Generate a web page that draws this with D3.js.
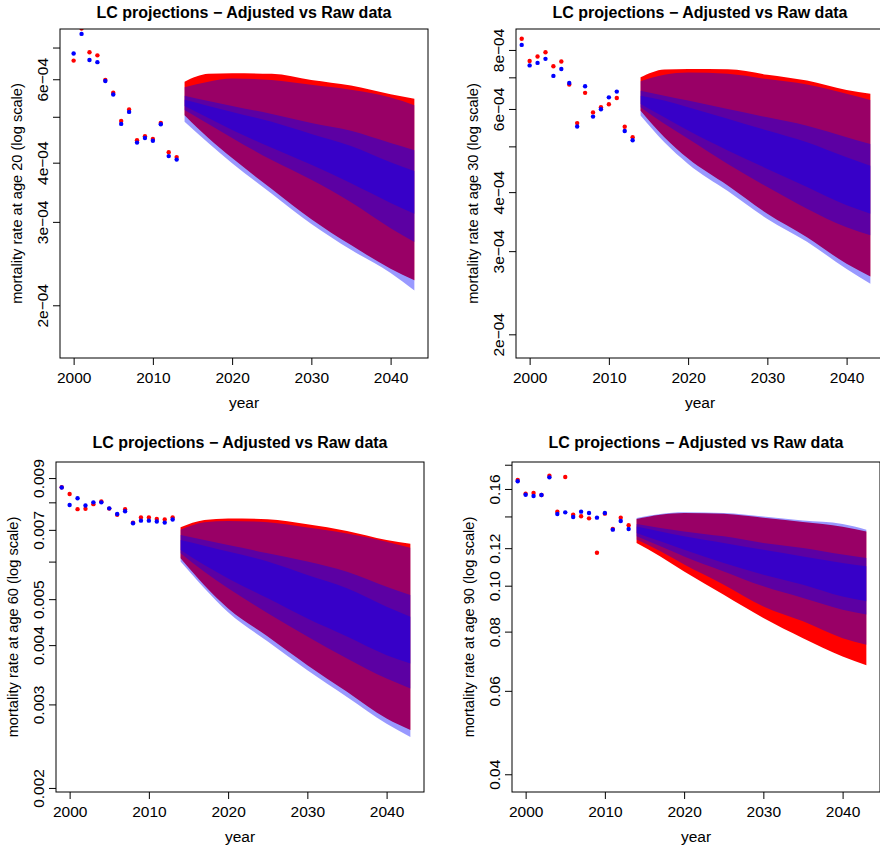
<!DOCTYPE html>
<html>
<head>
<meta charset="utf-8">
<script src="https://cdn.jsdelivr.net/npm/d3@7"></script>
<style>
body { margin: 0; background: #fff; }
svg { display: block; }
text { font-family: "Liberation Sans", Arial, Helvetica, sans-serif; fill: #000; }
</style>
</head>
<body>
<svg width="880" height="852"></svg>
<script>
// shared x settings
const xLim = [1998.28, 2044.72];
const xTicks = [2000, 2010, 2020, 2030, 2040];
const fanYears = [2014, 2017, 2020, 2025, 2030, 2035, 2040, 2043];

// ---- age 20 ----
const age20Years = [2000, 2001, 2002, 2003, 2004, 2005, 2006, 2007, 2008, 2009, 2010, 2011, 2012, 2013];
const age20Raw = [6.57e-4, 7.68e-4, 6.84e-4, 6.74e-4, 5.98e-4, 5.62e-4, 4.90e-4, 5.18e-4, 4.46e-4, 4.55e-4, 4.49e-4, 4.85e-4, 4.21e-4, 4.11e-4];
const age20Adj = [6.80e-4, 7.48e-4, 6.59e-4, 6.52e-4, 5.95e-4, 5.57e-4, 4.83e-4, 5.12e-4, 4.41e-4, 4.51e-4, 4.45e-4, 4.82e-4, 4.13e-4, 4.06e-4];
const age20RawUpper = [5.93e-4, 6.16e-4, 6.18e-4, 6.16e-4, 5.98e-4, 5.82e-4, 5.58e-4, 5.46e-4];
const age20RawLower = [5.04e-4, 4.51e-4, 4.09e-4, 3.52e-4, 3.04e-4, 2.68e-4, 2.39e-4, 2.26e-4];
const age20AdjUpper95 = [5.77e-4, 5.93e-4, 6.02e-4, 5.98e-4, 5.84e-4, 5.70e-4, 5.49e-4, 5.29e-4];
const age20AdjLower95 = [4.88e-4, 4.40e-4, 3.99e-4, 3.44e-4, 2.97e-4, 2.62e-4, 2.34e-4, 2.15e-4];
const age20AdjUpper80 = [5.54e-4, 5.40e-4, 5.27e-4, 5.07e-4, 4.85e-4, 4.67e-4, 4.40e-4, 4.25e-4];
const age20AdjLower80 = [5.17e-4, 4.83e-4, 4.51e-4, 4.05e-4, 3.68e-4, 3.30e-4, 2.91e-4, 2.72e-4];
const age20AdjUpper50 = [5.43e-4, 5.27e-4, 5.12e-4, 4.88e-4, 4.60e-4, 4.34e-4, 4.01e-4, 3.84e-4];
const age20AdjLower50 = [5.27e-4, 4.97e-4, 4.69e-4, 4.30e-4, 3.96e-4, 3.62e-4, 3.29e-4, 3.12e-4];
const age20YLim = [1.548e-4, 7.66e-4];
const age20Ticks = [2e-4, 3e-4, 4e-4, 5e-4, 6e-4, 7e-4];
const age20TickLabels = ["2e\u221204", "3e\u221204", "4e\u221204", "", "6e\u221204", ""];

// ---- age 30 ----
const age30Years = [1999, 2000, 2001, 2002, 2003, 2004, 2005, 2006, 2007, 2008, 2009, 2010, 2011, 2012, 2013];
const age30Raw = [8.45e-4, 7.58e-4, 7.75e-4, 7.91e-4, 7.39e-4, 7.56e-4, 6.76e-4, 5.60e-4, 6.49e-4, 5.90e-4, 6.05e-4, 6.14e-4, 6.33e-4, 5.50e-4, 5.23e-4];
const age30Adj = [8.20e-4, 7.42e-4, 7.51e-4, 7.66e-4, 7.05e-4, 7.29e-4, 6.81e-4, 5.51e-4, 6.70e-4, 5.78e-4, 5.99e-4, 6.35e-4, 6.53e-4, 5.39e-4, 5.15e-4];
const age30RawUpper = [7.00e-4, 7.27e-4, 7.29e-4, 7.28e-4, 7.09e-4, 6.89e-4, 6.58e-4, 6.46e-4];
const age30RawLower = [5.95e-4, 5.23e-4, 4.71e-4, 4.13e-4, 3.60e-4, 3.21e-4, 2.82e-4, 2.65e-4];
const age30AdjUpper95 = [6.87e-4, 7.09e-4, 7.17e-4, 7.12e-4, 6.94e-4, 6.76e-4, 6.46e-4, 6.27e-4];
const age30AdjLower95 = [5.81e-4, 5.10e-4, 4.59e-4, 4.02e-4, 3.51e-4, 3.14e-4, 2.75e-4, 2.56e-4];
const age30AdjUpper80 = [6.56e-4, 6.40e-4, 6.25e-4, 6.00e-4, 5.76e-4, 5.53e-4, 5.23e-4, 5.06e-4];
const age30AdjLower80 = [6.05e-4, 5.58e-4, 5.19e-4, 4.59e-4, 4.10e-4, 3.69e-4, 3.37e-4, 3.24e-4];
const age30AdjUpper50 = [6.40e-4, 6.25e-4, 6.05e-4, 5.72e-4, 5.40e-4, 5.10e-4, 4.74e-4, 4.55e-4];
const age30AdjLower50 = [6.15e-4, 5.76e-4, 5.40e-4, 4.90e-4, 4.48e-4, 4.10e-4, 3.75e-4, 3.60e-4];
const age30YLim = [1.782e-4, 8.86e-4];
const age30Ticks = [2e-4, 3e-4, 4e-4, 5e-4, 6e-4, 7e-4, 8e-4];
const age30TickLabels = ["2e\u221204", "3e\u221204", "4e\u221204", "", "6e\u221204", "", "8e\u221204"];

// ---- age 60 ----
const age60Years = [1999, 2000, 2001, 2002, 2003, 2004, 2005, 2006, 2007, 2008, 2009, 2010, 2011, 2012, 2013];
const age60Raw = [0.00861, 0.00833, 0.00774, 0.00775, 0.00793, 0.00803, 0.00776, 0.00753, 0.00774, 0.00725, 0.00743, 0.00743, 0.00738, 0.00736, 0.00743];
const age60Adj = [0.00860, 0.00790, 0.00816, 0.00788, 0.00800, 0.00800, 0.00777, 0.00756, 0.00766, 0.00723, 0.00732, 0.00732, 0.00729, 0.00725, 0.00736];
const age60RawUpper = [0.00709, 0.00734, 0.00740, 0.00737, 0.00719, 0.00696, 0.00666, 0.00654];
const age60RawLower = [0.00610, 0.00535, 0.00478, 0.00417, 0.00363, 0.00319, 0.00280, 0.00265];
const age60AdjUpper95 = [0.00700, 0.00726, 0.00731, 0.00726, 0.00708, 0.00688, 0.00661, 0.00642];
const age60AdjLower95 = [0.00600, 0.00527, 0.00469, 0.00407, 0.00354, 0.00311, 0.00273, 0.00256];
const age60AdjUpper80 = [0.00683, 0.00666, 0.00650, 0.00625, 0.00600, 0.00571, 0.00531, 0.00510];
const age60AdjLower80 = [0.00625, 0.00571, 0.00527, 0.00467, 0.00417, 0.00375, 0.00340, 0.00324];
const age60AdjUpper50 = [0.00666, 0.00648, 0.00630, 0.00600, 0.00562, 0.00527, 0.00482, 0.00459];
const age60AdjLower50 = [0.00635, 0.00590, 0.00553, 0.00502, 0.00455, 0.00417, 0.00381, 0.00366];
const age60YLim = [0.001961, 0.00973];
const age60Ticks = [0.002, 0.003, 0.004, 0.005, 0.006, 0.007, 0.008, 0.009];
const age60TickLabels = ["0.002", "0.003", "0.004", "0.005", "", "0.007", "", "0.009"];

// ---- age 90 ----
const age90Years = [1999, 2000, 2001, 2002, 2003, 2004, 2005, 2006, 2007, 2008, 2009, 2010, 2011, 2012, 2013];
const age90Raw = [0.1671, 0.1564, 0.1569, 0.1554, 0.1707, 0.1433, 0.1696, 0.1412, 0.1401, 0.1387, 0.1174, 0.1419, 0.1317, 0.1392, 0.1341];
const age90Adj = [0.1661, 0.1556, 0.1546, 0.1554, 0.1693, 0.1417, 0.1428, 0.1396, 0.1433, 0.1424, 0.1392, 0.1424, 0.1313, 0.1369, 0.1317];
const age90RawUpper = [0.1383, 0.1412, 0.1424, 0.1419, 0.1392, 0.1363, 0.1332, 0.1302];
const age90RawLower = [0.1231, 0.1153, 0.1072, 0.0957, 0.0855, 0.0775, 0.0709, 0.0679];
const age90AdjUpper95 = [0.1390, 0.1417, 0.1428, 0.1424, 0.1399, 0.1372, 0.1350, 0.1313];
const age90AdjLower95 = [0.1251, 0.1182, 0.1108, 0.1005, 0.0904, 0.0841, 0.0775, 0.0751];
const age90AdjUpper80 = [0.1350, 0.1324, 0.1302, 0.1271, 0.1231, 0.1201, 0.1163, 0.1144];
const age90AdjLower80 = [0.1271, 0.1211, 0.1153, 0.1072, 0.0997, 0.0942, 0.0890, 0.0869];
const age90AdjUpper50 = [0.1334, 0.1302, 0.1271, 0.1231, 0.1191, 0.1153, 0.1117, 0.1099];
const age90AdjLower50 = [0.1292, 0.1241, 0.1191, 0.1117, 0.1055, 0.1005, 0.0949, 0.0927];
const age90YLim = [0.0367, 0.1824];
const age90Ticks = [0.04, 0.06, 0.08, 0.10, 0.12, 0.14, 0.16, 0.18];
const age90TickLabels = ["0.04", "0.06", "0.08", "0.10", "0.12", "", "0.16", ""];

const panels = [
  { age: 20, years: age20Years, raw: age20Raw, adj: age20Adj, rawUpper: age20RawUpper, rawLower: age20RawLower,
    bands: [[age20AdjLower95, age20AdjUpper95], [age20AdjLower80, age20AdjUpper80], [age20AdjLower50, age20AdjUpper50]],
    yLim: age20YLim, ticks: age20Ticks, tickLabels: age20TickLabels },
  { age: 30, years: age30Years, raw: age30Raw, adj: age30Adj, rawUpper: age30RawUpper, rawLower: age30RawLower,
    bands: [[age30AdjLower95, age30AdjUpper95], [age30AdjLower80, age30AdjUpper80], [age30AdjLower50, age30AdjUpper50]],
    yLim: age30YLim, ticks: age30Ticks, tickLabels: age30TickLabels },
  { age: 60, years: age60Years, raw: age60Raw, adj: age60Adj, rawUpper: age60RawUpper, rawLower: age60RawLower,
    bands: [[age60AdjLower95, age60AdjUpper95], [age60AdjLower80, age60AdjUpper80], [age60AdjLower50, age60AdjUpper50]],
    yLim: age60YLim, ticks: age60Ticks, tickLabels: age60TickLabels },
  { age: 90, years: age90Years, raw: age90Raw, adj: age90Adj, rawUpper: age90RawUpper, rawLower: age90RawLower,
    bands: [[age90AdjLower95, age90AdjUpper95], [age90AdjLower80, age90AdjUpper80], [age90AdjLower50, age90AdjUpper50]],
    yLim: age90YLim, ticks: age90Ticks, tickLabels: age90TickLabels }
];

// plot boxes (2 x 2 layout)
const boxes = [
  { left: 60,  right: 428, top: 29,  bottom: 358, titleY: 18 },
  { left: 516, right: 884, top: 29,  bottom: 358, titleY: 18 },
  { left: 56,  right: 424, top: 462, bottom: 792, titleY: 447.5 },
  { left: 512, right: 880, top: 462, bottom: 792, titleY: 447.5 }
];

var svg = d3.select("svg");
var defs = svg.append("defs");

panels.forEach(function(p, i) { drawPanel(p, boxes[i], i); });

function drawPanel(p, b, i) {
  var x = d3.scaleLinear().domain(xLim).range([b.left, b.right]);
  var y = d3.scaleLog().domain(p.yLim).range([b.bottom, b.top]);

  defs.append("clipPath").attr("id", "clip" + i)
    .append("rect")
    .attr("x", b.left).attr("y", b.top)
    .attr("width", b.right - b.left).attr("height", b.bottom - b.top);

  var g = svg.append("g");
  var plot = g.append("g").attr("clip-path", "url(#clip" + i + ")");

  function band(lo, hi) {
    return d3.area()
      .curve(d3.curveMonotoneX)
      .x(function(d, k) { return x(fanYears[k]); })
      .y0(function(d, k) { return y(lo[k]); })
      .y1(function(d, k) { return y(hi[k]); })(fanYears);
  }

  // raw-data fan (opaque red)
  plot.append("path").attr("d", band(p.rawLower, p.rawUpper)).attr("fill", "#ff0000");
  // adjusted-data fan: nested translucent blue bands
  p.bands.forEach(function(bd) {
    plot.append("path").attr("d", band(bd[0], bd[1]))
      .attr("fill", "#0000ff").attr("fill-opacity", 0.4);
  });

  // observed rates
  plot.selectAll(".raw").data(p.years).join("circle")
    .attr("class", "raw")
    .attr("cx", function(d) { return x(d); })
    .attr("cy", function(d, k) { return y(p.raw[k]); })
    .attr("r", 2.2)
    .attr("fill", "#ff0000");
  plot.selectAll(".adj").data(p.years).join("circle")
    .attr("class", "adj")
    .attr("cx", function(d) { return x(d); })
    .attr("cy", function(d, k) { return y(p.adj[k]); })
    .attr("r", 2.2)
    .attr("fill", "#0000ff");

  // axes
  var xAxis = g.append("g").attr("transform", "translate(0," + b.bottom + ")")
    .call(d3.axisBottom(x).tickValues(xTicks).tickSize(7).tickSizeOuter(0).tickFormat(d3.format("d")));
  xAxis.select(".domain").remove();
  xAxis.selectAll("text").attr("y", 25).attr("dy", null)
    .style("font-size", "15.5px").style("font-family", null);

  var yAxis = g.append("g").attr("transform", "translate(" + b.left + ",0)")
    .call(d3.axisLeft(y).tickValues(p.ticks).tickSize(7).tickSizeOuter(0)
      .tickFormat(function(d, k) { return p.tickLabels[k]; }));
  yAxis.select(".domain").remove();
  yAxis.selectAll("text")
    .attr("transform", "rotate(-90)")
    .attr("x", 0).attr("y", -12).attr("dy", null)
    .style("text-anchor", "middle")
    .style("font-size", "15.5px").style("font-family", null);
  g.selectAll(".tick line").attr("stroke", "#000");

  // box
  g.append("rect")
    .attr("x", b.left).attr("y", b.top)
    .attr("width", b.right - b.left).attr("height", b.bottom - b.top)
    .attr("fill", "none").attr("stroke", "#000").attr("stroke-width", 1);

  // labels
  var cx = (b.left + b.right) / 2;
  g.append("text").attr("x", cx).attr("y", b.titleY)
    .attr("text-anchor", "middle")
    .style("font-size", "16px").style("font-weight", "bold")
    .text("LC projections \u2212 Adjusted vs Raw data");
  g.append("text").attr("x", cx).attr("y", b.bottom + 50)
    .attr("text-anchor", "middle").style("font-size", "15.5px")
    .text("year");
  g.append("text")
    .attr("transform", "translate(" + (b.left - 38) + "," + ((b.top + b.bottom) / 2) + ") rotate(-90)")
    .attr("text-anchor", "middle").style("font-size", "14.6px")
    .text("mortality rate at age " + p.age + " (log scale)");
}
</script>
</body>
</html>
